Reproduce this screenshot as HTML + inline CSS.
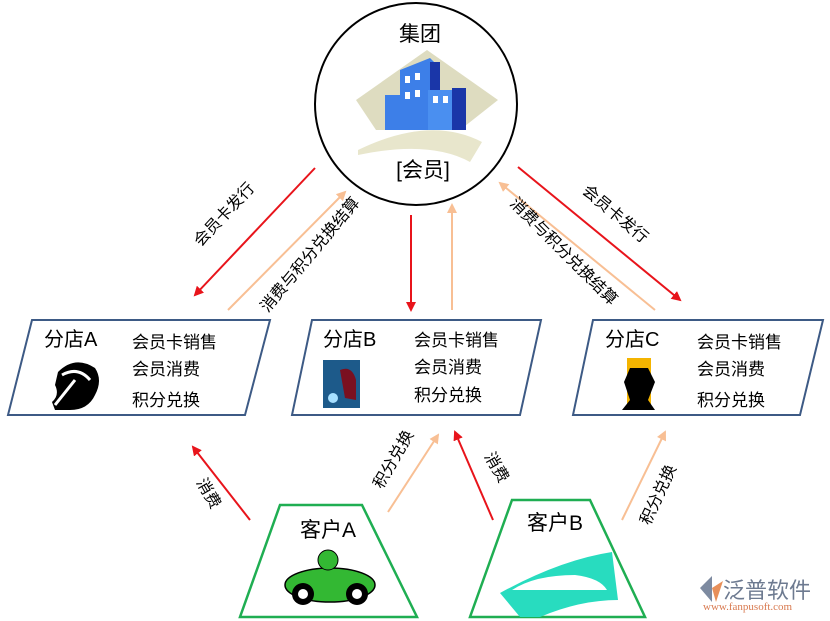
<!DOCTYPE html>
<html><head><meta charset="utf-8"><style>
html,body{margin:0;padding:0;background:#fff;}
svg{display:block;}
text{font-family:"Liberation Sans","Noto Sans CJK SC",sans-serif;fill:#000;}
</style></head><body>
<svg width="830" height="621" viewBox="0 0 830 621" xmlns="http://www.w3.org/2000/svg">
<defs>
<marker id="ar" markerWidth="10" markerHeight="10" refX="8" refY="5" orient="auto" markerUnits="userSpaceOnUse"><path d="M0,0 L10,5 L0,10 z" fill="#e8141b"/></marker>
<marker id="ap" markerWidth="10" markerHeight="10" refX="8" refY="5" orient="auto" markerUnits="userSpaceOnUse"><path d="M0,0 L10,5 L0,10 z" fill="#f8bf94"/></marker>
</defs>
<circle cx="416" cy="104" r="101" fill="#fff" stroke="#000" stroke-width="2"/>
<text x="420" y="41" font-size="21" text-anchor="middle">集团</text>
<polygon points="356,100 427,50 498,100 460,130 376,130" fill="#dedcc0"/>
<path d="M358,150 Q430,115 482,142 L470,162 Q430,140 358,155 z" fill="#e8e6cc"/>
<rect x="385" y="95" width="16" height="35" fill="#3d7fe8"/>
<polygon points="400,70 430,58 437,65 437,130 400,130" fill="#3d7fe8"/>
<rect x="430" y="62" width="10" height="68" fill="#1a36a8"/>
<rect x="428" y="90" width="25" height="40" fill="#4a8ff0"/>
<rect x="452" y="88" width="14" height="42" fill="#1a36a8"/>
<g fill="#fff"><rect x="405" y="76" width="5" height="7"/><rect x="415" y="73" width="5" height="7"/><rect x="405" y="92" width="5" height="7"/><rect x="415" y="90" width="5" height="7"/><rect x="433" y="96" width="5" height="7"/><rect x="443" y="96" width="5" height="7"/></g>
<text x="423" y="177" font-size="21" text-anchor="middle">[会员]</text>
<polygon points="32,320 270,320 245,415 8,415" fill="#fff" stroke="#3d5a85" stroke-width="2"/>
<polygon points="312,320 541,320 520,415 292,415" fill="#fff" stroke="#3d5a85" stroke-width="2"/>
<polygon points="593,320 823,320 800,415 573,415" fill="#fff" stroke="#3d5a85" stroke-width="2"/>
<g font-size="20">
<text x="44" y="346">分店A</text>
<text x="323" y="346">分店B</text>
<text x="605" y="346">分店C</text>
</g>
<g font-size="17">
<text x="132" y="348">会员卡销售</text><text x="132" y="375">会员消费</text><text x="132" y="406">积分兑换</text>
<text x="414" y="346">会员卡销售</text><text x="414" y="373">会员消费</text><text x="414" y="401">积分兑换</text>
<text x="697" y="348">会员卡销售</text><text x="697" y="375">会员消费</text><text x="697" y="406">积分兑换</text>
</g>
<path d="M58,372 Q75,355 95,368 Q103,380 95,395 Q88,410 70,410 L55,410 L52,402 Q60,395 55,385 Z" fill="#000"/>
<path d="M62,375 Q78,366 90,380" stroke="#fff" stroke-width="3" fill="none"/>
<path d="M55,405 L75,380" stroke="#fff" stroke-width="3"/>
<rect x="323" y="360" width="37" height="48" fill="#1d5a8a"/>
<path d="M340,370 Q352,365 356,380 L356,400 L345,398 z" fill="#7a1020"/>
<circle cx="333" cy="398" r="5" fill="#a8e0ff"/>
<rect x="627" y="358" width="24" height="52" fill="#f4b400"/>
<path d="M630,368 L648,368 L655,382 L648,400 L655,410 L622,410 L630,400 L624,382 z" fill="#000"/>
<polygon points="280,505 362,505 417,617 240,617" fill="#fff" stroke="#1fae52" stroke-width="2.5"/>
<polygon points="512,500 590,500 645,617 470,617" fill="#fff" stroke="#1fae52" stroke-width="2.5"/>
<text x="300" y="537" font-size="21">客户A</text>
<text x="527" y="530" font-size="21">客户B</text>
<ellipse cx="330" cy="585" rx="45" ry="17" fill="#33b833" stroke="#000" stroke-width="1.5"/>
<circle cx="328" cy="560" r="10" fill="#33b833" stroke="#000"/>
<circle cx="303" cy="594" r="11" fill="#000"/><circle cx="303" cy="594" r="5" fill="#fff"/>
<circle cx="357" cy="594" r="11" fill="#000"/><circle cx="357" cy="594" r="5" fill="#fff"/>
<path d="M500,593 Q560,560 612,552 L618,600 Q580,600 540,617 L520,617 Z" fill="#28dcbf"/>
<path d="M512,590 Q535,575 575,575 Q600,578 607,590 Z" fill="#fff"/>
<g stroke-width="2" fill="none">
<line x1="315" y1="168" x2="195" y2="295" stroke="#e8141b" marker-end="url(#ar)"/>
<line x1="228" y1="310" x2="345" y2="192" stroke="#f8bf94" marker-end="url(#ap)"/>
<line x1="411" y1="215" x2="411" y2="310" stroke="#e8141b" marker-end="url(#ar)"/>
<line x1="452" y1="310" x2="452" y2="205" stroke="#f8bf94" marker-end="url(#ap)"/>
<line x1="655" y1="310" x2="500" y2="183" stroke="#f8bf94" marker-end="url(#ap)"/>
<line x1="518" y1="167" x2="680" y2="300" stroke="#e8141b" marker-end="url(#ar)"/>
<line x1="250" y1="520" x2="193" y2="447" stroke="#e8141b" marker-end="url(#ar)"/>
<line x1="388" y1="512" x2="438" y2="435" stroke="#f8bf94" marker-end="url(#ap)"/>
<line x1="493" y1="520" x2="455" y2="432" stroke="#e8141b" marker-end="url(#ar)"/>
<line x1="622" y1="520" x2="665" y2="432" stroke="#f8bf94" marker-end="url(#ap)"/>
</g>
<g font-size="16" text-anchor="middle">
<text transform="translate(228,218) rotate(-47)">会员卡发行</text>
<text transform="translate(314,258) rotate(-50)">消费与积分兑换结算</text>
<text transform="translate(560,255) rotate(45)">消费与积分兑换结算</text>
<text transform="translate(612,218) rotate(40)">会员卡发行</text>
<text transform="translate(204,496) rotate(60)">消费</text>
<text transform="translate(398,462) rotate(-60)">积分兑换</text>
<text transform="translate(492,470) rotate(60)">消费</text>
<text transform="translate(663,497) rotate(-65)">积分兑换</text>
</g>
<path d="M700,588 L712,576 L712,602 Z" fill="#7d8aa0"/>
<path d="M712,588 L723,581 L716,602 Z" fill="#e8905a"/>
<text x="723" y="598" font-size="22" style="fill:#6d7a90">泛普软件</text>
<text x="703" y="610" font-size="11" style="fill:#d87a50;font-family:'Liberation Serif',serif">www.fanpusoft.com</text>
</svg>
</body></html>
